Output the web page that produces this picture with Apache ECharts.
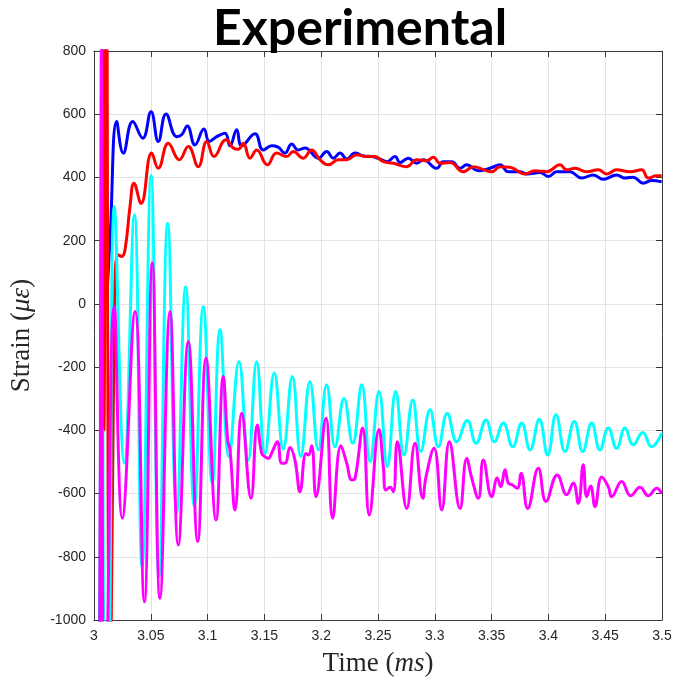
<!DOCTYPE html>
<html>
<head>
<meta charset="utf-8">
<title>Experimental</title>
<script src="https://cdn.jsdelivr.net/npm/echarts@6/dist/echarts.min.js"></script>
<style>
  html, body { margin: 0; padding: 0; background: #ffffff; }
  #chart { width: 675px; height: 678px; }
</style>
</head>
<body>
<div id="chart"></div>
<script>
// Strain gauge records (time in ms, strain in microstrain)
const xTicks = [3, 3.05, 3.1, 3.15, 3.2, 3.25, 3.3, 3.35, 3.4, 3.45, 3.5];
const yTicks = [-1000, -800, -600, -400, -200, 0, 200, 400, 600, 800];

const blueT = [3.0048, 3.0092, 3.0117, 3.0141, 3.0200, 3.0258, 3.0341, 3.0429, 3.0502, 3.0566,
  3.0634, 3.0728, 3.0772, 3.0821, 3.0889, 3.0968, 3.1015, 3.1080, 3.1153, 3.1197,
  3.1256, 3.1300, 3.1417, 3.1490, 3.1564, 3.1620, 3.1681, 3.1740, 3.1798, 3.1857,
  3.1975, 3.2048, 3.2107, 3.2166, 3.2225, 3.2298, 3.2371, 3.2445, 3.2518, 3.2577,
  3.2650, 3.2694, 3.2767, 3.2841, 3.2899, 3.3017, 3.3075, 3.3149, 3.3222, 3.3281,
  3.3383, 3.3486, 3.3574, 3.3647, 3.3750, 3.3809, 3.3926, 3.3999, 3.4073, 3.4190,
  3.4293, 3.4395, 3.4483, 3.4601, 3.4674, 3.4747, 3.4835, 3.4909, 3.4997];
const blueV = [-1500, 1500, 55, 203, 577, 477, 577, 524, 608, 514,
  601, 529, 535, 563, 503, 553, 514, 529, 540, 500,
  551, 500, 538, 487, 500, 496, 477, 506, 487, 493,
  461, 482, 461, 477, 458, 477, 468, 466, 458, 450,
  466, 447, 461, 445, 456, 429, 450, 450, 429, 440,
  421, 429, 440, 418, 418, 411, 416, 403, 418, 418,
  398, 408, 394, 408, 398, 401, 382, 390, 386];

const redT = [3.0070, 3.0088, 3.0106, 3.0141, 3.0185, 3.0214, 3.0244, 3.0273, 3.0317, 3.0352,
  3.0414, 3.0508, 3.0566, 3.0654, 3.0751, 3.0830, 3.0918, 3.0992, 3.1056, 3.1162,
  3.1226, 3.1270, 3.1314, 3.1373, 3.1432, 3.1526, 3.1608, 3.1696, 3.1754, 3.1842,
  3.1916, 3.1989, 3.2063, 3.2151, 3.2225, 3.2313, 3.2401, 3.2474, 3.2547, 3.2635,
  3.2753, 3.2841, 3.2929, 3.2987, 3.3046, 3.3134, 3.3251, 3.3339, 3.3501, 3.3574,
  3.3662, 3.3794, 3.3882, 3.3985, 3.4102, 3.4161, 3.4234, 3.4337, 3.4439, 3.4513,
  3.4601, 3.4718, 3.4821, 3.4879, 3.4953, 3.4997];
const redV = [1500, -400, 1500, -1400, 76, 155, 150, 171, 308, 382,
  318, 477, 429, 508, 456, 498, 434, 514, 466, 519,
  493, 489, 508, 461, 487, 440, 477, 466, 482, 461,
  487, 456, 440, 456, 456, 472, 466, 466, 450, 445,
  434, 456, 453, 464, 445, 447, 418, 434, 418, 434,
  432, 411, 421, 418, 440, 424, 429, 418, 424, 411,
  424, 418, 424, 398, 405, 405];

const cyanT = [3.0079, 3.0097, 3.0123, 3.0179, 3.0267, 3.0355, 3.0423, 3.0502, 3.0572, 3.0649,
  3.0728, 3.0807, 3.0883, 3.0962, 3.1041, 3.1109, 3.1188, 3.1276, 3.1358, 3.1432,
  3.1505, 3.1587, 3.1666, 3.1746, 3.1820, 3.1901, 3.1975, 3.2048, 3.2122, 3.2201,
  3.2277, 3.2357, 3.2430, 3.2509, 3.2582, 3.2656, 3.2729, 3.2806, 3.2876, 3.2958,
  3.3031, 3.3110, 3.3193, 3.3286, 3.3363, 3.3451, 3.3524, 3.3603, 3.3686, 3.3765,
  3.3838, 3.3920, 3.3994, 3.4067, 3.4146, 3.4228, 3.4302, 3.4381, 3.4454, 3.4527,
  3.4601, 3.4674, 3.4747, 3.4830, 3.4909, 3.4997];
const cyanV = [-400, -1200, -1200, 308, -504, 282, -830, 405, -860, 255,
  -660, 55, -641, -8, -567, -82, -483, -183, -494, -183,
  -473, -219, -460, -230, -483, -246, -462, -256, -452, -299,
  -441, -256, -499, -277, -515, -277, -478, -304, -467, -335,
  -452, -346, -436, -369, -441, -367, -436, -377, -452, -377,
  -462, -365, -478, -351, -467, -372, -467, -377, -462, -393,
  -457, -393, -446, -407, -452, -409];

const magentaT = [3.0053, 3.0066, 3.0079, 3.0106, 3.0179, 3.0249, 3.0361, 3.0443, 3.0513, 3.0581,
  3.0669, 3.0742, 3.0830, 3.0913, 3.0986, 3.1074, 3.1138, 3.1177, 3.1197, 3.1241,
  3.1300, 3.1382, 3.1438, 3.1476, 3.1505, 3.1534, 3.1570, 3.1614, 3.1652, 3.1681,
  3.1725, 3.1769, 3.1813, 3.1866, 3.1888, 3.1916, 3.1954, 3.2042, 3.2101, 3.2174,
  3.2225, 3.2269, 3.2298, 3.2365, 3.2423, 3.2509, 3.2547, 3.2570, 3.2606, 3.2635,
  3.2670, 3.2753, 3.2826, 3.2894, 3.2923, 3.2993, 3.3061, 3.3128, 3.3222, 3.3281,
  3.3325, 3.3383, 3.3427, 3.3501, 3.3550, 3.3580, 3.3618, 3.3647, 3.3680, 3.3726,
  3.3759, 3.3818, 3.3911, 3.3979, 3.4078, 3.4161, 3.4219, 3.4263, 3.4307, 3.4337,
  3.4372, 3.4410, 3.4469, 3.4527, 3.4557, 3.4645, 3.4724, 3.4806, 3.4879, 3.4953,
  3.4997];
const magentaV = [-1500, 1500, -1500, -1300, -8, -678, -24, -942, 129, -931,
  -24, -763, -119, -752, -172, -684, -230, -430, -462, -652,
  -346, -615, -383, -473, -483, -489, -467, -436, -504, -504,
  -454, -494, -594, -473, -478, -449, -610, -362, -678, -449,
  -504, -557, -552, -393, -668, -397, -515, -589, -580, -594,
  -436, -647, -441, -615, -546, -457, -652, -436, -647, -489,
  -551, -615, -494, -610, -551, -578, -525, -567, -572, -583,
  -536, -647, -520, -625, -541, -604, -567, -631, -509, -610,
  -576, -641, -548, -578, -610, -562, -607, -580, -607, -583,
  -599];

function pairs(t, v) {
  return t.map((x, i) => [x, v[i]]);
}

const axisColor = '#3a3a3a';
const labelColor = '#262626';

function makeSeries(name, t, v, color) {
  return {
    name: name,
    type: 'line',
    data: pairs(t, v),
    showSymbol: false,
    symbol: 'none',
    smooth: 0.45,
    clip: true,
    lineStyle: { color: color, width: 3 },
    emphasis: { disabled: true },
    xAxisIndex: 0,
    yAxisIndex: 0
  };
}

const chart = echarts.init(document.getElementById('chart'), null, { renderer: 'canvas' });

chart.setOption({
  animation: false,
  backgroundColor: '#ffffff',
  graphic: [{
    type: 'text',
    x: 360,
    y: 29,
    style: {
      text: 'Experimental',
      font: 'bold 50px Lato',
      fill: '#000000',
      textAlign: 'center',
      textVerticalAlign: 'middle'
    },
    z: 10
  }],
  grid: { left: 94, right: 13, top: 51, bottom: 58, containLabel: false, outerBoundsMode: 'none' },
  xAxis: [{
    type: 'value',
    min: 3,
    max: 3.5,
    interval: 0.05,
    name: '{n|Time (}{i|ms}{n|)}',
    nameLocation: 'middle',
    nameGap: 30,
    nameTextStyle: {
      rich: {
        n: { fontFamily: 'Liberation Serif', fontSize: 27, color: labelColor },
        i: { fontFamily: 'Liberation Serif', fontStyle: 'italic', fontSize: 27, color: labelColor }
      }
    },
    axisLine: { show: true, onZero: false, lineStyle: { color: axisColor, width: 1 } },
    axisTick: { show: true, inside: true, length: 6, lineStyle: { color: axisColor } },
    axisLabel: {
      margin: 9,
      fontFamily: 'Liberation Sans',
      fontSize: 14,
      color: labelColor,
      formatter: v => String(+v.toFixed(2))
    },
    splitLine: { show: true, lineStyle: { color: '#e3e3e3', width: 1 } }
  }, {
    type: 'value',
    position: 'top',
    min: 3,
    max: 3.5,
    interval: 0.05,
    axisLine: { show: true, onZero: false, lineStyle: { color: axisColor, width: 1 } },
    axisTick: { show: true, inside: true, length: 6, lineStyle: { color: axisColor } },
    axisLabel: { show: false },
    splitLine: { show: false }
  }],
  yAxis: [{
    type: 'value',
    min: -1000,
    max: 800,
    interval: 200,
    name: '{n|Strain (}{i|με}{n|)}',
    nameLocation: 'middle',
    nameGap: 59,
    nameRotate: 90,
    nameTextStyle: {
      rich: {
        n: { fontFamily: 'Liberation Serif', fontSize: 27, color: labelColor },
        i: { fontFamily: 'Liberation Serif', fontStyle: 'italic', fontSize: 27, color: labelColor }
      }
    },
    axisLine: { show: true, onZero: false, lineStyle: { color: axisColor, width: 1 } },
    axisTick: { show: true, inside: true, length: 6, lineStyle: { color: axisColor } },
    axisLabel: {
      margin: 8,
      fontFamily: 'Liberation Sans',
      fontSize: 14,
      color: labelColor,
      formatter: v => String(v)
    },
    splitLine: { show: true, lineStyle: { color: '#e3e3e3', width: 1 } }
  }, {
    type: 'value',
    position: 'right',
    min: -1000,
    max: 800,
    interval: 200,
    axisLine: { show: true, onZero: false, lineStyle: { color: axisColor, width: 1 } },
    axisTick: { show: true, inside: true, length: 6, lineStyle: { color: axisColor } },
    axisLabel: { show: false },
    splitLine: { show: false }
  }],
  series: [
    makeSeries('Gauge 1', blueT, blueV, '#0000ff'),
    makeSeries('Gauge 2', redT, redV, '#ff0000'),
    makeSeries('Gauge 3', cyanT, cyanV, '#00ffff'),
    makeSeries('Gauge 4', magentaT, magentaV, '#ff00ff')
  ]
});
</script>
</body>
</html>
